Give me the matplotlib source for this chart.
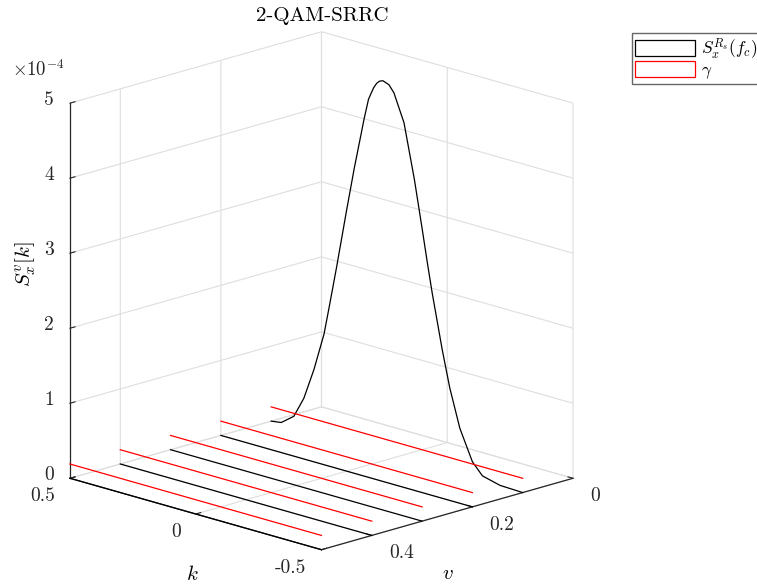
import matplotlib
matplotlib.use('Agg')
import matplotlib.pyplot as plt
from matplotlib.patches import Patch
from mpl_toolkits.mplot3d import proj3d

plt.rcParams['mathtext.fontset'] = 'cm'
plt.rcParams['font.family'] = 'cmr10'
plt.rcParams['axes.formatter.use_mathtext'] = True

# peak curve S_x^{R_s}(f_c) at v = 0.1, values in units of 1e-4
k_peak = [0.5, 0.46, 0.41, 0.37, 0.33, 0.29, 0.27, 0.24, 0.22, 0.20, 0.17, 0.13,
          0.113, 0.093, 0.081, 0.07, 0.056, 0.032, 0.012, -0.028, -0.069, -0.10,
          -0.12, -0.14, -0.18, -0.21, -0.25, -0.30, -0.34, -0.41, -0.5]
s_peak = [0.0, 0.02, 0.15, 0.43, 0.85, 1.36, 1.73, 2.30, 2.70, 3.10, 3.68, 4.39,
          4.66, 4.83, 4.90, 4.94, 4.96, 4.93, 4.84, 4.48, 3.77, 3.14,
          2.72, 2.32, 1.60, 1.12, 0.62, 0.22, 0.07, 0.01, 0.0]
v_peak = 0.1

# flat (zero) spectra at the other v values
v_flat = [0.5, 0.4, 0.3, 0.2]
k_ends = [0.5, -0.5]

# threshold gamma, units of 1e-4
v_gamma = [0.5, 0.4, 0.3, 0.2, 0.1]
gamma = 0.19

k_ticks = [-0.5, 0, 0.5]
k_ticklabels = ['-0.5', '0', '0.5']
v_ticks = [0, 0.2, 0.4]
v_ticklabels = ['0', '0.2', '0.4']
z_ticks = [0, 1, 2, 3, 4, 5]
z_ticklabels = ['0', '1', '2', '3', '4', '5']

W, H = 757, 584
fig = plt.figure(figsize=(W / 100, H / 100), dpi=100)

side = 560
cx, cy = 322, 300  # pixel centre, y from bottom
ax = fig.add_axes([(cx - side / 2) / W, (cy - side / 2) / H, side / W, side / H],
                  projection='3d')

for v in v_flat:
    ax.plot(k_ends, [v, v], [0, 0], color='black', lw=0.9)
ax.plot(k_peak, [v_peak] * len(k_peak), s_peak, color='black', lw=0.9)
for v in v_gamma:
    ax.plot(k_ends, [v, v], [gamma, gamma], color='red', lw=0.9)

ax.set_proj_type('ortho')
ax.view_init(elev=16.5, azim=135)
ax.set_box_aspect((1, 1, 1.1))
ax.set_xlim(-0.5, 0.5)
ax.set_ylim(0, 0.5)
ax.set_zlim(0, 5)

ax.set_xticks(k_ticks)
ax.set_xticklabels([''] * len(k_ticks))
ax.set_yticks(v_ticks)
ax.set_yticklabels([''] * len(v_ticks))
ax.set_zticks(z_ticks)
ax.set_zticklabels([''] * len(z_ticks))
ax.zaxis.set_ticks_position('upper')

for axis in (ax.xaxis, ax.yaxis, ax.zaxis):
    axis.set_pane_color((1, 1, 1, 0))
    axis.pane.set_edgecolor((1, 1, 1, 0))
    axis._axinfo['grid'].update(color=(0.87, 0.87, 0.87, 1), linewidth=0.8)
    axis._axinfo['tick'].update(inward_factor=0.0, outward_factor=0.25)
    axis._axinfo['axisline'].update(color='#262626', linewidth=0.9)
    axis.line.set_color('#262626')
    axis.line.set_linewidth(0.9)

ax.tick_params(colors='#262626')

# fit the projected box onto the reference pixel positions
fig.canvas.draw()


def to_px(x, y, z):
    xs, ys, _ = proj3d.proj_transform(x, y, z, ax.get_proj())
    return ax.transData.transform((xs, ys))


p_left = to_px(0.5, 0.5, 0)
p_right = to_px(-0.5, 0, 0)
p_top = to_px(0.5, 0, 5)
s = (573 - 70) / (p_right[0] - p_left[0])
new_side = side * s
mid_x = (p_left[0] + p_right[0]) / 2
mid_y = (p_left[1] + p_top[1]) / 2
t_mid_x = (70 + 573) / 2
t_mid_y = ((H - 477) + (H - 33)) / 2
new_cx = t_mid_x - s * (mid_x - cx)
new_cy = t_mid_y - s * (mid_y - cy)
ax.set_position([(new_cx - new_side / 2) / W, (new_cy - new_side / 2) / H,
                 new_side / W, new_side / H])


def tick_label(x, y, z, text, dx, dy, ha, va):
    xs, ys, _ = proj3d.proj_transform(x, y, z, ax.get_proj())
    ax.annotate(text, (xs, ys), xytext=(dx, dy), textcoords='offset pixels',
                ha=ha, va=va, fontsize=14, color='#262626', annotation_clip=False)


for t, lab in zip(k_ticks, k_ticklabels):
    tick_label(t, 0.5, 0, lab, -15, -9, 'right', 'top')
for t, lab in zip(v_ticks, v_ticklabels):
    tick_label(-0.5, t, 0, lab, 17, -9, 'left', 'top')
for t, lab in zip(z_ticks, z_ticklabels):
    tick_label(0.5, 0.5, t, lab, -16, 3, 'right', 'center')

fig.text(322 / W, 1 - 16 / H, '2-QAM-SRRC', ha='center', va='center', fontsize=15)
fig.text(192 / W, 1 - 574 / H, r'$k$', ha='center', va='center', fontsize=15)
fig.text(448 / W, 1 - 574 / H, r'$v$', ha='center', va='center', fontsize=15)
fig.text(26 / W, 1 - 264 / H, r'$S_x^v[k]$', ha='center', va='center',
         rotation=90, fontsize=15)
fig.text(38 / W, 1 - 70 / H, r'$\times10^{-4}$', ha='center', va='center',
         fontsize=13.5, color='#262626')

handles = [Patch(facecolor='white', edgecolor='black', lw=0.9),
           Patch(facecolor='white', edgecolor='red', lw=0.9)]
fig.legend(handles, [r'$S_x^{R_s}(f_c)$', r'$\gamma$'], loc='upper left',
           bbox_to_anchor=(632 / W, 1 - 33 / H), fontsize=12.5, frameon=True,
           fancybox=False, edgecolor='#666666', framealpha=1,
           handlelength=3.45, handleheight=0.98, labelspacing=0.0,
           borderpad=0.2, handletextpad=0.3, borderaxespad=0)

fig.savefig('out.png', dpi=100)
